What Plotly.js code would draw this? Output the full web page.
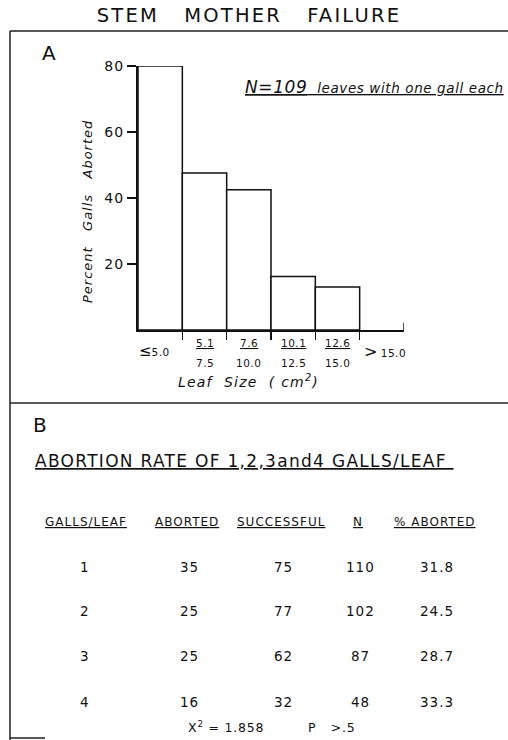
<!DOCTYPE html>
<html><head><meta charset="utf-8">
<script src="https://cdn.plot.ly/plotly-3.0.1.min.js"></script>
<style>html,body{margin:0;padding:0;background:#fff}#chart{width:508px;height:740px}
.ytick text{letter-spacing:1px}</style>
</head><body><div id="chart"></div>
<script>
// ---- Panel A data ----
const binLower = ["≤5.0", "5.1", "7.6", "10.1", "12.6", "> 15.0"];
const binUpper = ["", "7.5", "10.0", "12.5", "15.0", ""];
const binCenter = [0.5, 1.5, 2.5, 3.5, 4.5, 5.5];
const binEdges = [1, 2, 3, 4, 5];
const pctAbortedBySize = [80, 47.6, 42.5, 16.2, 13.0];
const yTicks = [20, 40, 60, 80];

// ---- Panel B data ----
const tableHeaders = ["GALLS/LEAF", "ABORTED", "SUCCESSFUL", "N", "% ABORTED"];
const gallsPerLeaf = ["1", "2", "3", "4"];
const aborted = ["35", "25", "25", "16"];
const successful = ["75", "77", "62", "32"];
const totalN = ["110", "102", "87", "48"];
const pctAborted = ["31.8", "24.5", "28.7", "33.3"];
const chiSquare = "1.858";
const pValue = ">.5";

// ---- geometry helpers (pixel -> paper) ----
const W = 508, H = 740, L = 138, R = 404, T = 66, B = 330;
const px = v => (v - L) / (R - L);
const py = v => (B - v) / (B - T);
const FONT = "DejaVu Sans";
const ls = (s, sp) => "<span style='letter-spacing:" + sp + "px'>" + s + "</span>";
const ann = [];
function txt(text, x, y, size, opts) {
  ann.push(Object.assign({
    text: text, x: px(x), y: py(y), xref: "paper", yref: "paper",
    showarrow: false, xanchor: "center", yanchor: "middle",
    font: {family: FONT, size: size, color: "#111"}
  }, opts || {}));
}

// Panel labels
txt("A", 49, 53, 20);
txt("B", 40, 425, 20);

// note
txt("<i><u>" + ls("<span style='font-size:17px'>N=109</span>&nbsp; leaves with one gall each", 0.6) + "</u></i>", 506, 87, 13.5, {xanchor: "right"});

// y axis title
txt("<i>" + ls("Percent&nbsp;&nbsp; Galls&nbsp;&nbsp; Aborted", 1) + "</i>", 87, 212, 13, {textangle: -90});

// x bin labels
for (let i = 0; i < binLower.length; i++) {
  const common = {xref: "x", yref: "paper", showarrow: false, xanchor: "center", yanchor: "middle",
    font: {family: FONT, size: 10.5, color: "#111"}};
  if (binUpper[i]) {
    ann.push(Object.assign({text: "<u>" + ls(binLower[i], 0.5) + "</u>", x: binCenter[i], y: py(343)}, common));
    ann.push(Object.assign({text: ls(binUpper[i], 0.5), x: binCenter[i], y: py(363)}, common));
  } else {
    const t = binLower[i].startsWith("≤")
      ? "<span style='font-size:15px'>≤</span>" + ls(binLower[i].slice(1), 0.5)
      : "<span style='font-size:16px'>&gt;</span> " + ls(binLower[i].slice(2), 0.5);
    ann.push(Object.assign({text: t, x: binCenter[i] + (i === 0 ? -0.12 : 0.07), y: py(351)}, common));
  }
}
txt("<i>" + ls("Leaf&nbsp; Size&nbsp; (&nbsp;cm<sup>2</sup>)", 1.2) + "</i>", 248, 381, 14);

// Panel B title
txt("<u>" + ls("ABORTION RATE OF 1,2,3and4 GALLS/LEAF&nbsp;", 1.3) + "</u>", 33, 461, 17, {xanchor: "left"});

// table
const colX = [86, 187, 281, 358, 435];
const rowY = [567, 611, 656, 702];
tableHeaders.forEach((h, j) => txt("<u>" + ls(h, 1) + "</u>", colX[j], 522, 12));
const cols = [gallsPerLeaf, aborted, successful, totalN, pctAborted];
for (let r = 0; r < gallsPerLeaf.length; r++) {
  cols.forEach((c, j) => txt(ls(c[r], 1), colX[j] + (j === 0 ? -1 : 2), rowY[r], 13.5));
}
txt(ls("X<sup>2</sup> = " + chiSquare, 0.8), 226, 727, 12.5);
txt(ls("P&nbsp;&nbsp; " + pValue, 0.8), 331, 727, 12.5);

// frame lines
const line = {color: "#222", width: 1.5};
const shapes = [
  {type: "line", xref: "paper", yref: "paper", x0: px(10), x1: px(508), y0: py(31), y1: py(31), line: line},
  {type: "line", xref: "paper", yref: "paper", x0: px(10), x1: px(10), y0: py(31), y1: py(740), line: line},
  {type: "line", xref: "paper", yref: "paper", x0: px(10), x1: px(508), y0: py(403), y1: py(403), line: line},
  {type: "line", xref: "paper", yref: "paper", x0: px(10), x1: px(45), y0: py(738), y1: py(738), line: line},
  // end tick of the x axis (points up)
  {type: "line", xref: "x", yref: "paper", x0: 6, x1: 6, y0: 0, y1: py(323), line: {color: "#111", width: 1.5}}
];

const trace = {
  type: "bar",
  x: binCenter.slice(0, pctAbortedBySize.length),
  y: pctAbortedBySize,
  width: 1,
  marker: {color: "#fff", line: {color: "#111", width: 1.5}},
  cliponaxis: false,
  hoverinfo: "skip"
};

const layout = {
  width: W, height: H,
  margin: {l: L, r: W - R, t: T, b: H - B, pad: 0},
  paper_bgcolor: "#fff", plot_bgcolor: "#fff",
  showlegend: false,
  font: {family: FONT, color: "#111"},
  title: {
    text: ls("STEM&nbsp;&nbsp; MOTHER&nbsp;&nbsp; FAILURE", 2.2),
    xref: "container", yref: "container",
    x: 249 / W, xanchor: "center", y: 1 - 15 / H, yanchor: "middle",
    font: {family: FONT, size: 19.5, color: "#111"}
  },
  xaxis: {
    range: [0, 6], showgrid: false, zeroline: false,
    showline: true, linecolor: "#111", linewidth: 2,
    tickmode: "array", tickvals: binEdges, ticks: "outside", ticklen: 8, tickwidth: 1.5, tickcolor: "#111",
    showticklabels: false, fixedrange: true
  },
  yaxis: {
    range: [0, 80], showgrid: false, zeroline: false,
    showline: true, linecolor: "#111", linewidth: 2,
    tickmode: "array", tickvals: yTicks, ticks: "outside", ticklen: 9, tickwidth: 1.5, tickcolor: "#111",
    tickfont: {family: FONT, size: 14, color: "#111"}, fixedrange: true
  },
  annotations: ann,
  shapes: shapes
};

Plotly.newPlot("chart", [trace], layout, {displayModeBar: false, staticPlot: true});
</script></body></html>
